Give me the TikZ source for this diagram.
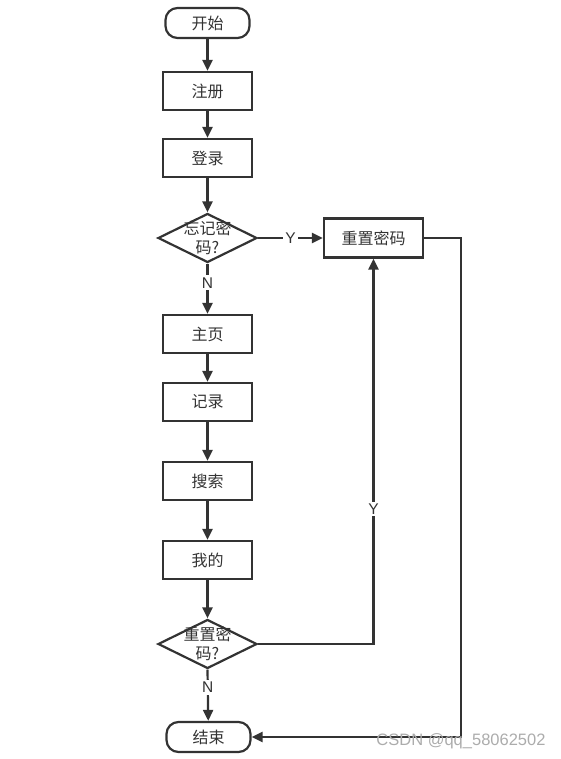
\documentclass[tikz,border=0pt]{standalone}
\usepackage{fontspec}
\setmainfont{Noto Sans CJK SC}
\newfontfamily\latinfont{Liberation Sans}
\usetikzlibrary{shapes.geometric,arrows.meta}
\definecolor{ink}{HTML}{333333}
\begin{document}
\begin{tikzpicture}[x=1pt,y=-1pt,
  every node/.style={text=ink,font=\fontsize{16}{18}\selectfont},
  proc/.style={draw=ink,line width=2.2pt,minimum width=89pt,minimum height=38pt,inner sep=0pt},
  term/.style={draw=ink,line width=2.2pt,rounded corners=12pt,minimum width=84pt,minimum height=30pt,inner sep=0pt},
  dec/.style={draw=ink,line width=2.2pt,diamond,aspect=2,minimum width=99pt,minimum height=49pt,inner sep=0pt},
  dectext/.style={align=center,font=\fontsize{16}{19}\selectfont,text=ink},
  conn/.style={draw=ink,line width=2.2pt,-{Triangle[length=11pt,width=10pt]}},
  lbl/.style={fill=white,inner sep=2pt,font=\latinfont\fontsize{15.5}{17}\selectfont}]
\useasboundingbox (0,0) rectangle (561,759);
\node[term] (start) at (207.5,23) {开始};
\node[proc] (reg) at (207.5,91) {注册};
\node[proc] (login) at (207.5,158) {登录};
\node[dec] (forget) at (207.5,238) {};
\node[dectext] (forgett) at (207.5,238) {忘记密\\码?};
\node[proc,minimum width=99pt,minimum height=39pt] (reset) at (373.5,238) {重置密码};
\node[proc] (home) at (207.5,334) {主页};
\node[proc] (rec) at (207.5,402) {记录};
\node[proc] (search) at (207.5,481) {搜索};
\node[proc] (mine) at (207.5,560) {我的};
\node[dec] (reset2) at (207.5,644) {};
\node[dectext] (reset2t) at (207.5,644) {重置密\\码?};
\node[term] (end) at (208.5,737) {结束};
\coordinate (c1) at (461,238);
\coordinate (c2) at (461,737);
\coordinate (c3) at (373.5,644);
\draw[conn] (start) -- (reg);
\draw[conn] (reg) -- (login);
\draw[conn] (login) -- (forget);
\draw[conn] (forget) -- node[lbl] (ly) {Y} (reset);
\draw[conn] (forget) -- node[lbl,pos=0.38] (ln) {N} (home);
\draw[conn] (home) -- (rec);
\draw[conn] (rec) -- (search);
\draw[conn] (search) -- (mine);
\draw[conn] (mine) -- (reset2);
\draw[conn] (reset2.south) -- node[lbl,pos=0.35] (ln2) {N} (end);
\draw[conn] (reset.east) -- (c1) -- (c2) -- (end.east);
\draw[conn] (reset2.east) -- (c3) -- node[lbl,pos=0.35] (ly2) {Y} (reset.south);
\node[text=gray!65,font=\latinfont\fontsize{16.5}{18}\selectfont] (wm) at (461,741) {CSDN @qq\_58062502};
\end{tikzpicture}
\end{document}
